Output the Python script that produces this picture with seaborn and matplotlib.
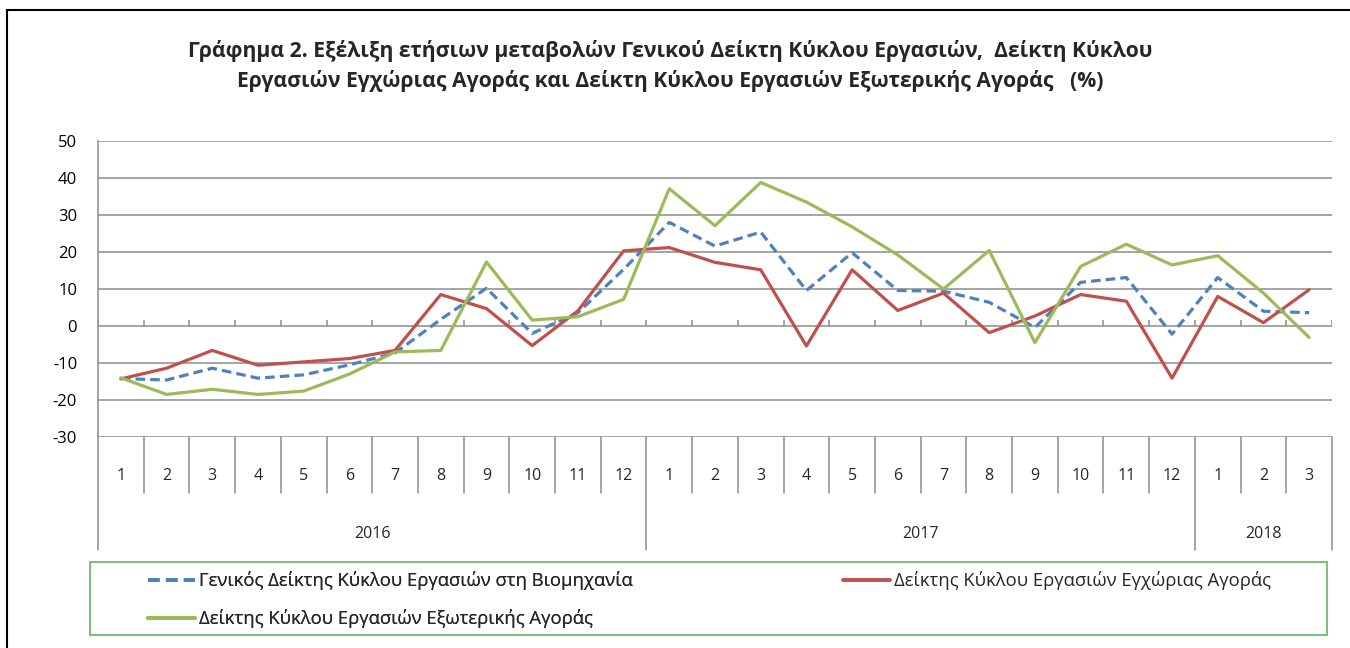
import numpy as np
import pandas as pd
import seaborn as sns
import matplotlib.pyplot as plt
from matplotlib.lines import Line2D
from matplotlib.patches import Rectangle
import matplotlib.transforms as mtransforms

# ---- data (annual % changes) ----
MONTHS = [1, 2, 3, 4, 5, 6, 7, 8, 9, 10, 11, 12,
          1, 2, 3, 4, 5, 6, 7, 8, 9, 10, 11, 12,
          1, 2, 3]
YEARS = ["2016", "2017", "2018"]
YEAR_LEN = [12, 12, 3]

GENERAL = [-14.2, -14.6, -11.4, -14.1, -13.2, -10.5, -7.3, 1.8, 10.2, -2.0, 3.6, 15.3,
           28.0, 21.6, 25.4, 9.6, 19.8, 9.6, 9.4, 6.4, -0.4, 11.8, 13.1, -2.2,
           13.1, 4.0, 3.6]
DOMESTIC = [-14.3, -11.4, -6.6, -10.6, -9.7, -8.8, -6.6, 8.5, 4.7, -5.3, 4.1, 20.3,
            21.2, 17.2, 15.2, -5.4, 15.2, 4.2, 8.9, -1.8, 2.7, 8.5, 6.7, -14.1,
            8.0, 0.9, 9.8]
EXTERNAL = [-14.0, -18.5, -17.1, -18.5, -17.6, -13.0, -7.0, -6.6, 17.3, 1.6, 2.5, 7.2,
            37.1, 27.1, 38.8, 33.5, 26.8, 19.2, 10.0, 20.4, -4.5, 16.1, 22.1, 16.5,
            19.0, 8.9, -3.1]

SERIES = ["Γενικός Δείκτης Κύκλου Εργασιών στη Βιομηχανία",
          "Δείκτης Κύκλου Εργασιών Εγχώριας Αγοράς",
          "Δείκτης Κύκλου Εργασιών Εξωτερικής Αγοράς"]
COLORS = {SERIES[0]: "#4F81BD", SERIES[1]: "#C0504D", SERIES[2]: "#9BBB59"}
DASHES = {SERIES[0]: (3, 1.6), SERIES[1]: "", SERIES[2]: ""}

TITLE = ("Γράφημα 2. Εξέλιξη ετήσιων μεταβολών Γενικού Δείκτη Κύκλου Εργασιών,  Δείκτη Κύκλου\n"
         "Εργασιών Εγχώριας Αγοράς και Δείκτη Κύκλου Εργασιών Εξωτερικής Αγοράς   (%)")

W, H = 1350, 648
FONT = "Open Sans"
FS = 11.5
GRID = "#8c8c8c"


def make_legend(fig, names, x, y):
    handles = [Line2D([], [], color=COLORS[s], lw=2.8,
                      linestyle=(0, DASHES[s]) if DASHES[s] else "-") for s in names]
    leg = fig.legend(handles, names, loc="upper left", frameon=False,
                     bbox_to_anchor=(x / W, 1 - y / H), bbox_transform=fig.transFigure,
                     fontsize=13.3, handlelength=2.55, handletextpad=0.2,
                     borderaxespad=0, borderpad=0, labelspacing=1.05)
    return leg


def main():
    n = len(MONTHS)
    idx = np.arange(n)
    df = pd.concat([
        pd.DataFrame({"i": idx, "value": vals, "series": name})
        for name, vals in zip(SERIES, [GENERAL, DOMESTIC, EXTERNAL])
    ])

    sns.set_theme(style="white")
    plt.rcParams["font.family"] = [FONT, "DejaVu Sans"]
    plt.rcParams["axes.unicode_minus"] = False

    fig = plt.figure(figsize=(W / 100, H / 100), dpi=100)
    left, right, top, bottom = 98, 1332, 141, 437
    ax = fig.add_axes([left / W, 1 - bottom / H, (right - left) / W, (bottom - top) / H])

    sns.lineplot(data=df, x="i", y="value", hue="series", style="series",
                 hue_order=SERIES, style_order=SERIES, palette=COLORS, dashes=DASHES,
                 linewidth=2.3, legend=False, ax=ax)

    ax.set_xlim(-0.5, n - 0.5)
    ax.set_ylim(-30, 50)
    ax.set_yticks(range(-30, 51, 10))
    ax.grid(axis="y", color=GRID, linewidth=1.1)
    ax.set_axisbelow(True)
    for side in ("top", "right", "bottom"):
        ax.spines[side].set_visible(False)
    ax.spines["left"].set_color(GRID)
    ax.spines["left"].set_linewidth(1.1)
    ax.set_xticks([])
    ax.set_xlabel("")
    ax.set_ylabel("")
    ax.tick_params(axis="y", length=0, labelsize=12, pad=15, colors="black")

    # small tick marks on the zero line
    ax.vlines(np.arange(-0.5, n, 1.0), 0, 1.6, color=GRID, linewidth=1.1, zorder=1)

    # category axis below the plot: months and years
    trans = mtransforms.blended_transform_factory(ax.transData, ax.transAxes)
    ax_h = bottom - top
    m_end = -(493 - bottom) / ax_h
    y_end = -(550 - bottom) / ax_h
    boundaries = np.cumsum([0] + YEAR_LEN) - 0.5
    for b in np.arange(-0.5, n, 1.0):
        low = y_end if np.any(np.isclose(b, boundaries)) else m_end
        ax.plot([b, b], [0, low], transform=trans, color=GRID, lw=1.1, clip_on=False)
    for i, m in enumerate(MONTHS):
        ax.text(i, -(476 - bottom) / ax_h, str(m), transform=trans,
                ha="center", va="center", fontsize=FS)
    start = 0
    for yr, ln in zip(YEARS, YEAR_LEN):
        ax.text(start + (ln - 1) / 2, -(534 - bottom) / ax_h, yr, transform=trans,
                ha="center", va="center", fontsize=FS)
        start += ln

    # title
    fig.text(670 / W, 1 - 66 / H, TITLE, ha="center", va="center", fontsize=15.2,
             fontweight="bold", linespacing=1.5)

    # legend: green frame + two blocks of entries
    lx0, ly0, lx1, ly1 = 90, 562, 1327, 635
    fig.patches.append(Rectangle((lx0 / W, 1 - ly1 / H), (lx1 - lx0) / W, (ly1 - ly0) / H,
                                 transform=fig.transFigure, fill=False,
                                 edgecolor="#5cb85c", linewidth=1.2))
    leg1 = make_legend(fig, [SERIES[0], SERIES[2]], 148, 571)
    fig.add_artist(leg1)
    make_legend(fig, [SERIES[1]], 843, 571)

    # outer chart frame (only top and left edges fall inside the picture)
    fig.patches.append(Rectangle((7 / W, -0.05), 1.1, 1.05 - 10 / H,
                                 transform=fig.transFigure, fill=False,
                                 edgecolor="black", linewidth=1.5))

    fig.savefig("out.png", dpi=100)


if __name__ == "__main__":
    main()
